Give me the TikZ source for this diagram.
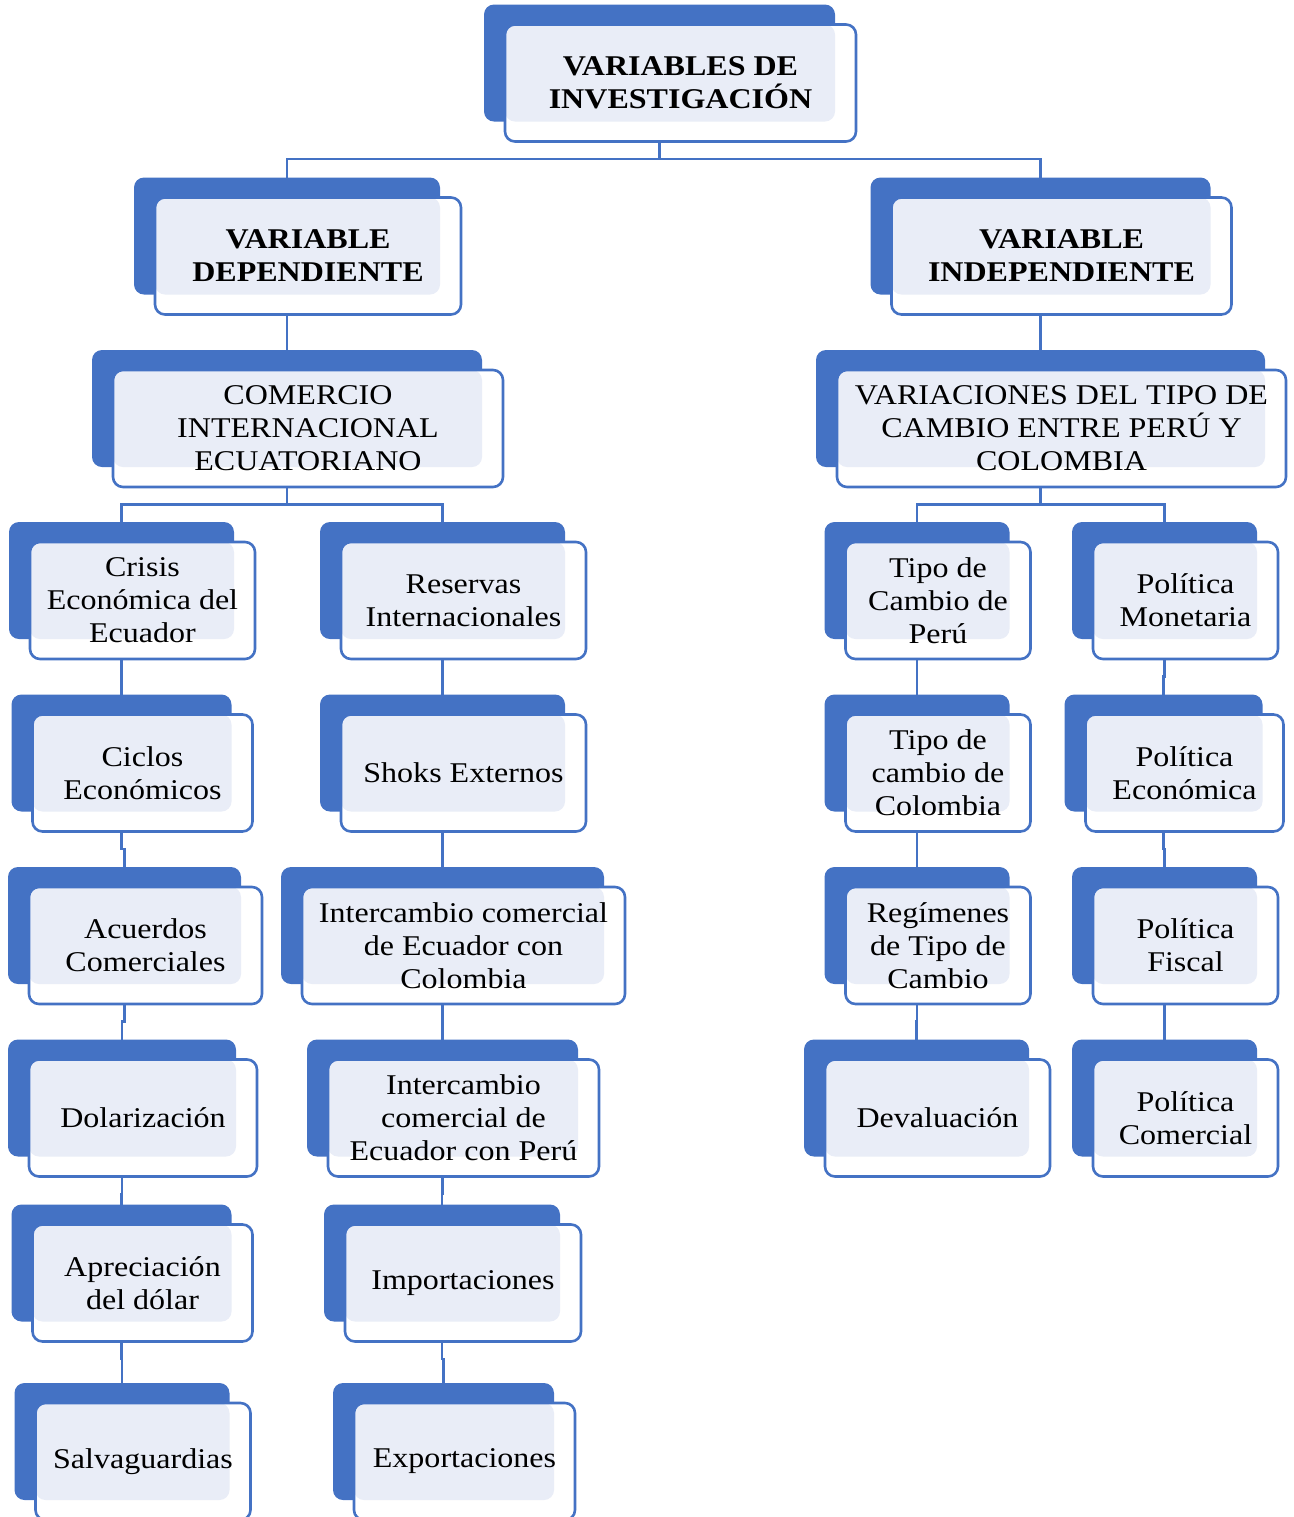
\documentclass[tikz,border=0pt]{standalone}
\usepackage{fontspec}
\setmainfont{Liberation Serif}[FakeStretch=1.12]
\usepackage{tikz}
\usetikzlibrary{shadows,backgrounds}
\definecolor{boxblue}{HTML}{4472C4}
\definecolor{boxlight}{HTML}{E9EDF7}

\begin{document}
\begin{tikzpicture}[x=0.5pt, y=-0.5pt, font=\fontsize{14.3pt}{16.5pt}\selectfont,
  varbox/.style={draw=boxblue, line width=1.3pt, fill=white, rounded corners=5pt, align=center, inner sep=0pt, minimum height=58.5pt,
    general shadow={fill=boxblue, shadow xshift=-10.5pt, shadow yshift=10pt},
    path picture={\fill[boxlight, rounded corners=5pt] (path picture bounding box.north west) rectangle ([xshift=-10.5pt,yshift=10pt]path picture bounding box.south east);}},
  titlebox/.style={varbox, font=\fontsize{14.3pt}{16.5pt}\selectfont\bfseries},
  link/.style={draw=boxblue, line width=1.2pt}]
\useasboundingbox (0,0) rectangle (1294,1517);

% top levels
\node[titlebox, minimum width=175.5pt] (top) at (680.5,83) {VARIABLES DE\\INVESTIGACIÓN};
\node[titlebox, minimum width=153pt] (dep) at (308,256) {VARIABLE\\DEPENDIENTE};
\node[titlebox, minimum width=170pt] (indep) at (1061.5,256) {VARIABLE\\INDEPENDIENTE};
\node[varbox, minimum width=195pt] (com) at (308,428.5) {COMERCIO\\INTERNACIONAL\\ECUATORIANO};
\node[varbox, minimum width=224.5pt] (var) at (1061.5,428.5) {VARIACIONES DEL TIPO DE\\CAMBIO ENTRE PERÚ Y\\COLOMBIA};

% dependent column
\node[varbox, minimum width=112.5pt] (crisis) at (142.5,600.5) {Crisis\\Económica del\\Ecuador};
\node[varbox, minimum width=110pt] (ciclos) at (142.5,773) {Ciclos\\Económicos};
\node[varbox, minimum width=116.5pt] (acuerdos) at (145.5,945.5) {Acuerdos\\Comerciales};
\node[varbox, minimum width=114pt] (dolar) at (143,1118) {Dolarización};
\node[varbox, minimum width=110pt] (apreciacion) at (142.5,1283) {Apreciación\\del dólar};
\node[varbox, minimum width=107.5pt] (salva) at (143,1461.5) {Salvaguardias};

\node[varbox, minimum width=122.5pt] (reservas) at (463.5,600.5) {Reservas\\Internacionales};
\node[varbox, minimum width=122.5pt] (shoks) at (463.5,773) {Shoks Externos};
\node[varbox, minimum width=161.5pt] (intercol) at (463.5,945.5) {Intercambio comercial\\de Ecuador con\\Colombia};
\node[varbox, minimum width=135.5pt] (interperu) at (463.5,1118) {Intercambio\\comercial de\\Ecuador con Perú};
\node[varbox, minimum width=118pt] (import) at (463,1283) {Importaciones};
\node[varbox, minimum width=110.5pt] (export) at (464.5,1461.5) {Exportaciones};

% independent column
\node[varbox, minimum width=92.5pt] (tipoperu) at (938,600.5) {Tipo de\\Cambio de\\Perú};
\node[varbox, minimum width=92.5pt] (tipocol) at (938,773) {Tipo de\\cambio de\\Colombia};
\node[varbox, minimum width=92.5pt] (regimenes) at (938,945.5) {Regímenes\\de Tipo de\\Cambio};
\node[varbox, minimum width=112.5pt] (deval) at (937.5,1118) {Devaluación};

\node[varbox, minimum width=92.5pt] (monetaria) at (1185.5,600.5) {Política\\Monetaria};
\node[varbox, minimum width=99pt] (economica) at (1184.5,773) {Política\\Económica};
\node[varbox, minimum width=92.5pt] (fiscal) at (1185.5,945.5) {Política\\Fiscal};
\node[varbox, minimum width=92.5pt] (comercial) at (1185.5,1118) {Política\\Comercial};

% connectors
\begin{scope}[on background layer]
\foreach \a/\b in {top/dep, top/indep, com/crisis, com/reservas, var/tipoperu, var/monetaria,
    crisis/ciclos, ciclos/acuerdos, acuerdos/dolar, dolar/apreciacion, apreciacion/salva,
    reservas/shoks, shoks/intercol, intercol/interperu, interperu/import, import/export,
    tipoperu/tipocol, tipocol/regimenes, regimenes/deval,
    monetaria/economica, economica/fiscal, fiscal/comercial}
  \draw[link] ([xshift=-10.5pt]\a.south) -- ++(0,16) -| ([xshift=-10.5pt]\b.north);
\draw[link] ([xshift=-10.5pt]dep.south) -- ([xshift=-10.5pt]com.north);
\draw[link] ([xshift=-10.5pt]indep.south) -- ([xshift=-10.5pt]var.north);
\end{scope}
\end{tikzpicture}
\end{document}
